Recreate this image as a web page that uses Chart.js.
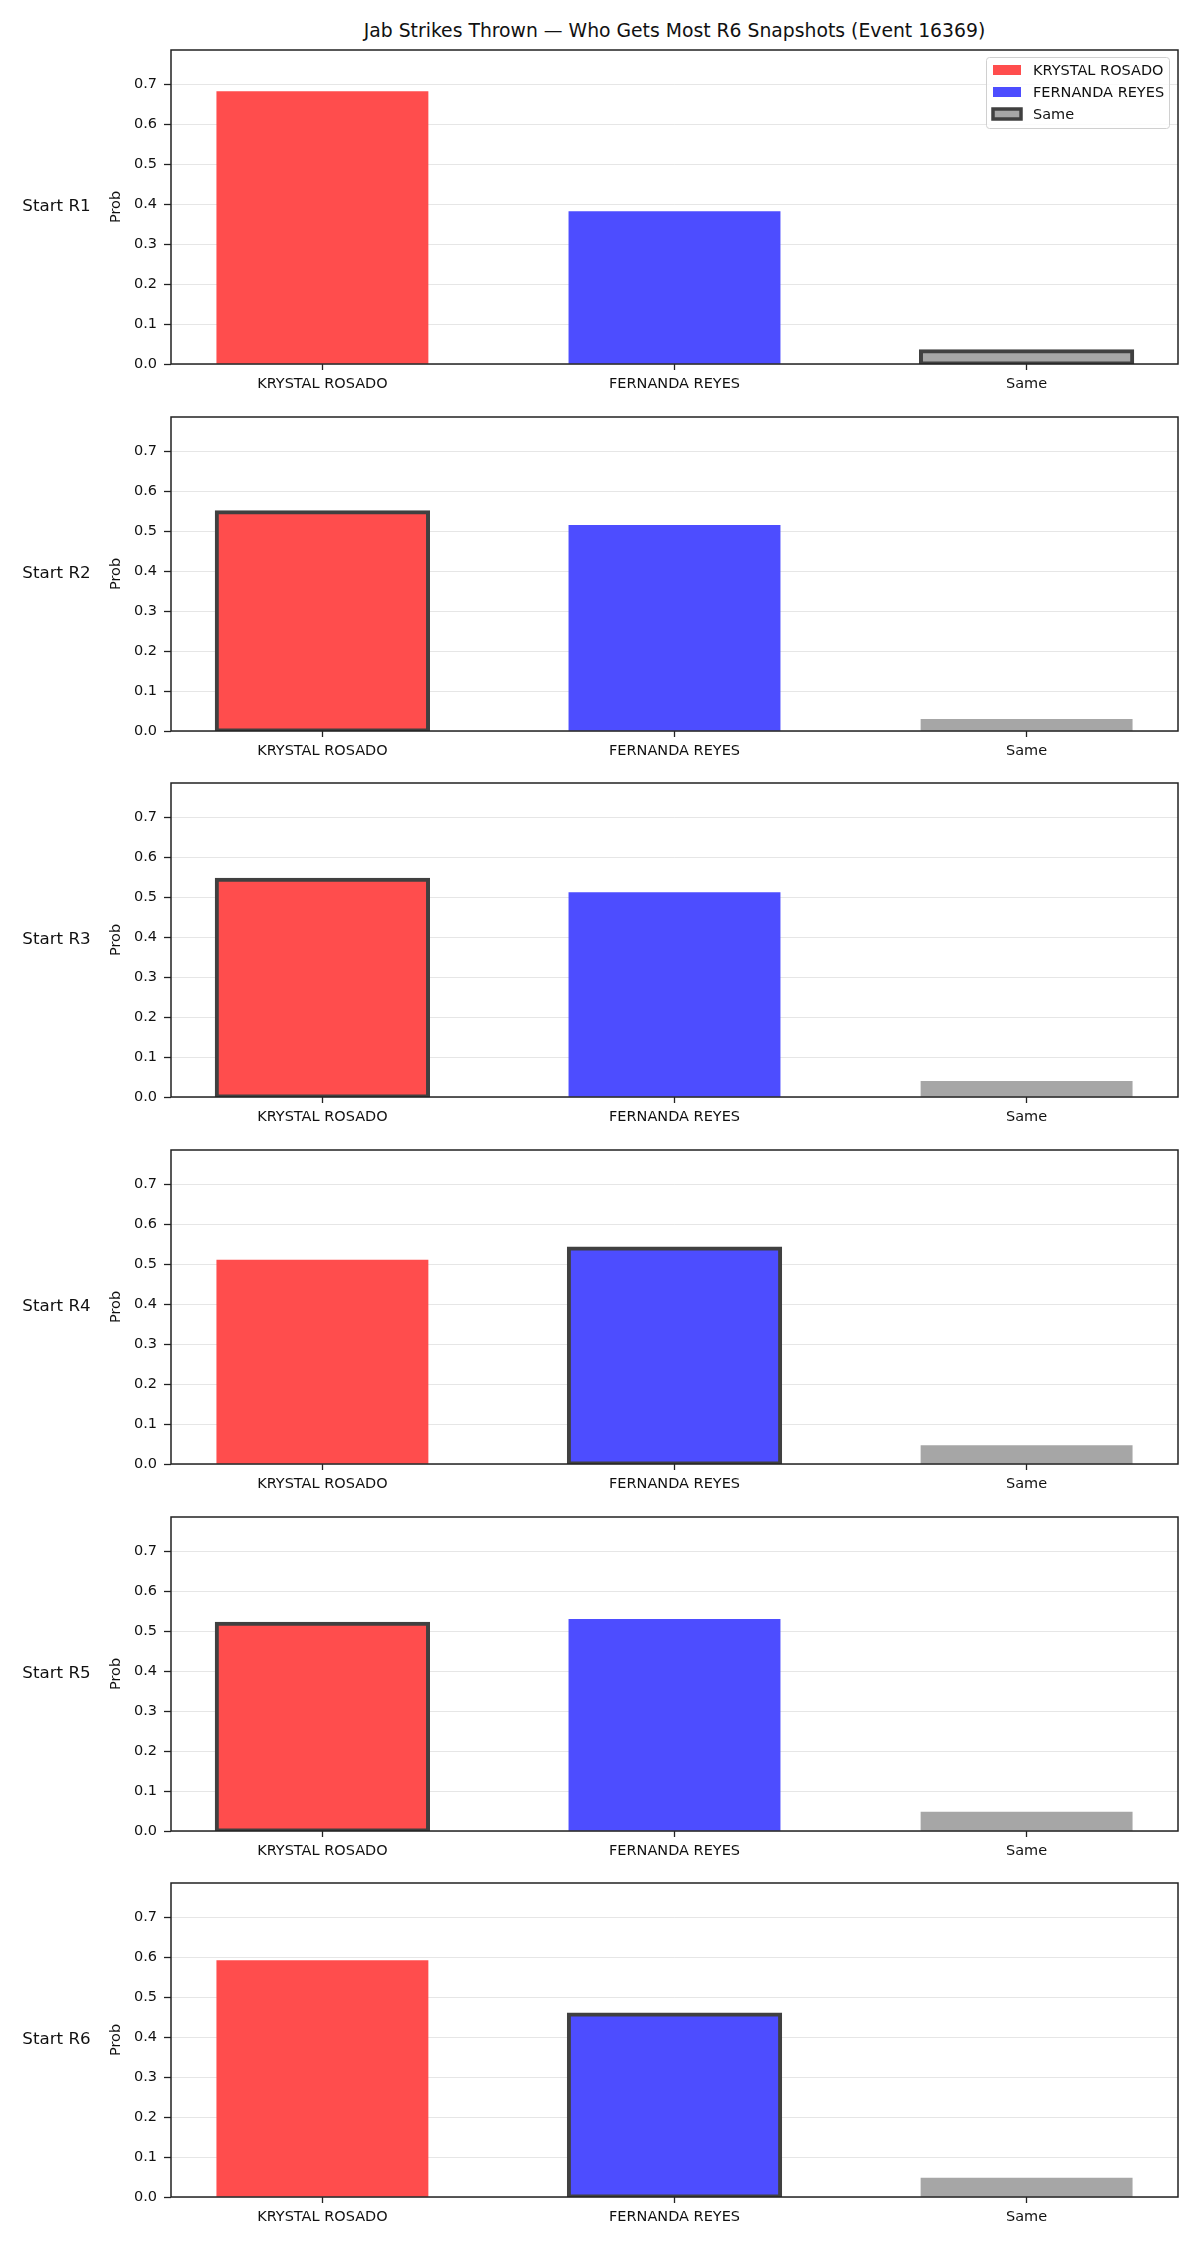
<!DOCTYPE html>
<html><head><meta charset="utf-8">
<script src="https://cdn.jsdelivr.net/npm/chart.js@4.4.1/dist/chart.umd.min.js"></script>
<style>
body{margin:0;background:#fff;width:1200px;height:2250px;position:relative;overflow:hidden;font-family:'DejaVu Sans',sans-serif;}
#title{position:absolute;left:171px;width:1007px;top:19px;text-align:center;font-size:18.8px;color:#111;line-height:24px;white-space:nowrap}
canvas{position:absolute;left:0}
</style></head><body>
<div id="title">Jab Strikes Thrown — Who Gets Most R6 Snapshots (Event 16369)</div>
<script>
// ---- data ----
const categories = ['KRYSTAL ROSADO', 'FERNANDA REYES', 'Same'];
const rounds = ['Start R1', 'Start R2', 'Start R3', 'Start R4', 'Start R5', 'Start R6'];
const krystal = [0.681, 0.547, 0.543, 0.510, 0.518, 0.591];
const fernanda = [0.381, 0.514, 0.511, 0.539, 0.529, 0.456];
const same = [0.032, 0.029, 0.039, 0.046, 0.047, 0.047];
const highlighted = ['Same', 'KRYSTAL ROSADO', 'KRYSTAL ROSADO', 'FERNANDA REYES', 'KRYSTAL ROSADO', 'FERNANDA REYES'];
const yTickLabels = ['0.0', '0.1', '0.2', '0.3', '0.4', '0.5', '0.6', '0.7'];

// ---- style ----
const FONT = 'DejaVu Sans';
const TICK_PX = 14.5;
const colors = ['#ff4d4d', '#4d4dff', '#a6a6a6'];
const edgeColor = '#404040';
const yMax = 0.785;
const PANEL_TOP0 = 50, PANEL_PITCH = 366.67, AX_H = 314, PAD_TOP = 18, XAX_H = 47;
const CANVAS_H = PAD_TOP + AX_H + XAX_H;
const AX_LEFT = 171, AX_RIGHT = 1178;

const decor = {
  id: 'decor',
  afterDraw(chart, args, opts) {
    const ctx = chart.ctx, a = chart.chartArea;
    ctx.save();
    ctx.strokeStyle = '#222';
    ctx.lineWidth = 1.5;
    ctx.strokeRect(a.left, a.top, a.right - a.left, a.bottom - a.top);
    const cy = (a.top + a.bottom) / 2;
    ctx.fillStyle = '#111';
    ctx.textBaseline = 'middle';
    ctx.textAlign = 'center';
    ctx.font = '16.7px "' + FONT + '"';
    ctx.fillText(opts.row, 56.5, cy);
    ctx.save();
    ctx.translate(116, cy);
    ctx.rotate(-Math.PI / 2);
    ctx.font = TICK_PX + 'px "' + FONT + '"';
    ctx.fillText('Prob', 0, 0);
    ctx.restore();
    if (opts.legend) {
      const bx = 986.5, by = a.top + 7.5, bw = 183, bh = 71;
      ctx.beginPath();
      ctx.roundRect(bx, by, bw, bh, 3);
      ctx.fillStyle = 'rgba(255,255,255,0.85)';
      ctx.fill();
      ctx.strokeStyle = '#d0d0d0';
      ctx.lineWidth = 1;
      ctx.stroke();
      ctx.font = TICK_PX + 'px "' + FONT + '"';
      ctx.textAlign = 'left';
      categories.forEach((c, i) => {
        const ey = a.top + 20 + i * 22;
        ctx.fillStyle = colors[i];
        ctx.fillRect(993, ey - 5, 28, 10);
        if (c === opts.hl) {
          ctx.strokeStyle = edgeColor;
          ctx.lineWidth = 3.5;
          ctx.strokeRect(993, ey - 5, 28, 10);
        }
        ctx.fillStyle = '#111';
        ctx.fillText(c, 1033, ey + 1);
      });
    }
    ctx.restore();
  }
};

rounds.forEach((r, p) => {
  const cv = document.createElement('canvas');
  cv.width = 1200; cv.height = CANVAS_H;
  cv.style.top = (Math.round(PANEL_TOP0 + p * PANEL_PITCH) - PAD_TOP) + 'px';
  document.body.appendChild(cv);
  const vals = [krystal[p], fernanda[p], same[p]];
  const hl = categories.indexOf(highlighted[p]);
  new Chart(cv, {
    type: 'bar',
    data: {
      datasets: [{
        data: vals.map((v, i) => ({ x: i, y: v })),
        backgroundColor: colors,
        borderColor: edgeColor,
        borderWidth: ctx => ctx.dataIndex === hl ? 4 : 0,
        inflateAmount: ctx => ctx.dataIndex === hl ? 2 : 0.33,
        borderSkipped: false,
        barPercentage: 0.6,
        categoryPercentage: 1.0
      }]
    },
    options: {
      responsive: false,
      animation: false,
      devicePixelRatio: 1,
      layout: { padding: { top: PAD_TOP, left: 0, right: 1200 - AX_RIGHT, bottom: 0 } },
      plugins: {
        legend: { display: false },
        tooltip: { enabled: false },
        decor: { row: r, legend: p === 0, hl: highlighted[p] }
      },
      scales: {
        x: {
          type: 'linear',
          offset: false,
          min: -0.43, max: 2.43,
          afterBuildTicks: s => { s.ticks = categories.map((_, i) => ({ value: i })); },
          ticks: {
            callback: v => categories[Math.round(v)],
            font: { family: FONT, size: TICK_PX },
            color: '#111', padding: 6, maxRotation: 0, autoSkip: false
          },
          grid: { offset: false, drawOnChartArea: false, drawTicks: true, tickLength: 6, tickColor: '#222', tickWidth: 1.3 },
          border: { display: false },
          afterFit: s => { s.height = XAX_H; }
        },
        y: {
          min: 0, max: yMax, z: 1,
          afterBuildTicks: s => { s.ticks = yTickLabels.map(t => ({ value: parseFloat(t) })); },
          ticks: {
            callback: (v, i) => yTickLabels[i],
            font: { family: FONT, size: TICK_PX },
            color: '#111', padding: 7
          },
          grid: { color: 'rgba(128,128,128,0.2)', lineWidth: 1, tickColor: '#222', tickLength: 7, tickWidth: 1.3 },
          border: { display: false },
          afterFit: s => { s.width = AX_LEFT; }
        }
      }
    },
    plugins: [decor]
  });
});
</script>
</body></html>
